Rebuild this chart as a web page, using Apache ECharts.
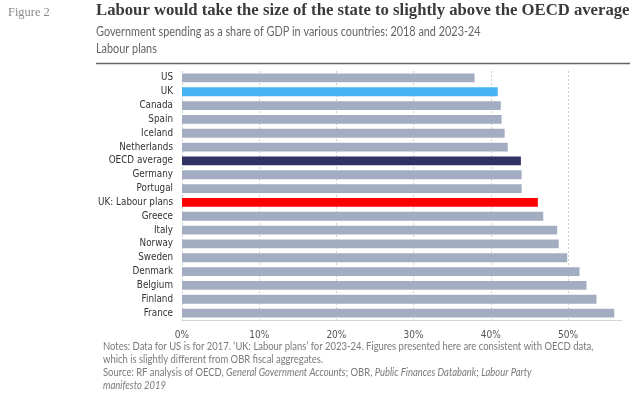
<!DOCTYPE html>
<html>
<head>
<meta charset="utf-8">
<script src="https://cdn.jsdelivr.net/npm/echarts@6/dist/echarts.min.js"></script>
<style>
html,body{margin:0;padding:0;background:#fff;}
#chart{width:640px;height:395px;}
</style>
</head>
<body>
<div id="chart"></div>
<script>
const categories = ["US","UK","Canada","Spain","Iceland","Netherlands","OECD average","Germany","Portugal","UK: Labour plans","Greece","Italy","Norway","Sweden","Denmark","Belgium","Finland","France"];
const values = [37.9, 40.9, 41.3, 41.4, 41.8, 42.2, 43.9, 44.0, 44.0, 46.1, 46.8, 48.6, 48.8, 49.9, 51.5, 52.4, 53.7, 56.0];
const highlightColors = {"UK": "#47b5f5", "OECD average": "#2f3363", "UK: Labour plans": "#ff0000"};
const defaultColor = "#a3adc2";
const xTicks = [0, 10, 20, 30, 40, 50];

const chart = echarts.init(document.getElementById('chart'));
const noteFont = '10.5px "Lato"';
const noteItalic = 'italic 10.5px "Lato"';
const noteScale = 0.9;
const subFont = '12.5px "Lato"';
const subScale = 0.87;
const option = {
  animation: false,
  backgroundColor: '#fff',
  grid: {left: 182, right: 18, top: 71, height: 249, containLabel: false},
  xAxis: {
    type: 'value', min: 0, max: 57, interval: 10,
    axisLine: {show: true, lineStyle: {color: '#d4d4d4', width: 1}},
    axisTick: {show: false},
    axisLabel: {
      showMaxLabel: false, color: '#555', fontFamily: 'DejaVu Sans Condensed', fontSize: 10, margin: 10,
      formatter: v => xTicks.includes(v) ? v + '%' : ''
    },
    splitLine: {show: true, showMaxLine: false, lineStyle: {color: '#cfcfcf', type: [2, 2], width: 1}}
  },
  yAxis: {
    type: 'category', data: categories, inverse: true,
    axisLine: {show: false}, axisTick: {show: false},
    axisLabel: {color: '#333', fontFamily: 'DejaVu Sans Condensed', fontSize: 9.8, margin: 9}
  },
  series: [{
    type: 'bar',
    data: values.map((v, i) => ({value: v, itemStyle: {color: highlightColors[categories[i]] || defaultColor}})),
    barCategoryGap: '36%'
  }],
  graphic: [
    {type: 'text', x: 8, y: 5, scaleX: 0.92, style: {text: 'Figure 2', font: '13.5px "Liberation Serif"', fill: '#8a8a8a'}},
    {type: 'text', x: 96, y: 2, style: {text: 'Labour would take the size of the state to slightly above the OECD average', font: 'bold 16.7px "Liberation Serif"', fill: '#3a3a3a'}},
    {type: 'text', x: 96, y: 25, scaleX: subScale, style: {text: 'Government spending as a share of GDP in various countries: 2018 and 2023-24', font: subFont, fill: '#666'}},
    {type: 'text', x: 96, y: 42, scaleX: subScale, style: {text: 'Labour plans', font: subFont, fill: '#666'}},
    {type: 'line', shape: {x1: 96, y1: 63.5, x2: 630, y2: 63.5}, style: {stroke: '#666', lineWidth: 1.5}},
    {type: 'text', x: 103, y: 341, scaleX: noteScale, style: {text: 'Notes: Data for US is for 2017. \u2018UK: Labour plans\u2019 for 2023-24. Figures presented here are consistent with OECD data,', font: noteFont, fill: '#7a7a7a'}},
    {type: 'text', x: 103, y: 354, scaleX: noteScale, style: {text: 'which is slightly different from OBR fiscal aggregates.', font: noteFont, fill: '#7a7a7a'}},
    {type: 'text', x: 103, y: 367, scaleX: noteScale, style: {
      rich: {n: {font: noteFont, fill: '#7a7a7a'}, i: {font: noteItalic, fill: '#7a7a7a'}},
      text: '{n|Source: RF analysis of OECD, }{i|General Government Accounts}{n|; OBR, }{i|Public Finances Databank}{n|; }{i|Labour Party}'
    }},
    {type: 'text', x: 103, y: 380, scaleX: noteScale, style: {text: 'manifesto 2019', font: noteItalic, fill: '#7a7a7a'}}
  ]
};
chart.setOption(option);
</script>
</body>
</html>
